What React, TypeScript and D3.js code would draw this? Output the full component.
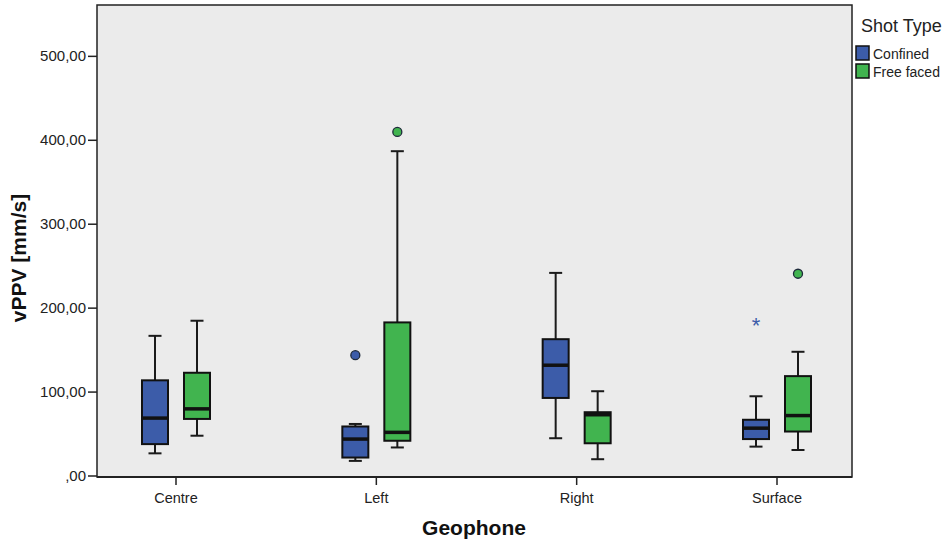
import React from "react";
import * as d3 from "d3";

// Geophone positions along the x axis
const geophones = ["Centre", "Left", "Right", "Surface"];
const shotTypes = ["Confined", "Free faced"];

// Box statistics per geophone: [whiskerLow, q1, median, q3, whiskerHigh]
const confinedStats = [
  [27, 38, 69, 114, 167],
  [18, 22, 44, 59, 62],
  [45, 93, 132, 163, 242],
  [35, 44, 57, 67, 95],
];
const freeFacedStats = [
  [48, 68, 80, 123, 185],
  [34, 42, 52, 183, 387],
  [20, 39, 73, 76, 101],
  [31, 53, 72, 119, 148],
];

// Outliers (circles) and extremes (stars): [geophone, shot type, value]
const outliers: [string, string, number][] = [
  ["Left", "Confined", 144],
  ["Left", "Free faced", 410],
  ["Surface", "Free faced", 241],
];
const extremes: [string, string, number][] = [["Surface", "Confined", 182]];

const yTicks = [0, 100, 200, 300, 400, 500];

const W = 951;
const H = 543;
const plot = { left: 97, right: 852, top: 5, bottom: 477 };
const colors: Record<string, string> = { Confined: "#3c5ca9", "Free faced": "#41b44f" };
const font = "'Liberation Sans', Arial, sans-serif";

export default function App() {
  const x = d3.scalePoint<string>().domain(geophones).range([176, 777]);
  const y = d3.scaleLinear().domain([0, 560]).range([476, 6]);
  const offset = d3.scaleOrdinal<string, number>().domain(shotTypes).range([-21, 21]);
  const boxW = 26;
  const capW = 13;
  const fmt = (v: number) => (v === 0 ? ",00" : d3.format(".2f")(v).replace(".", ","));

  const series = [
    { type: "Confined", stats: confinedStats },
    { type: "Free faced", stats: freeFacedStats },
  ];

  return (
    <svg width={W} height={H} style={{ position: "fixed", left: 0, top: 0, background: "#fff" }} fontFamily={font}>
      <rect x={plot.left} y={plot.top} width={plot.right - plot.left} height={plot.bottom - plot.top} fill="#ebebeb" />

      {series.map((s) =>
        s.stats.map((st, i) => {
          const cx = (x(geophones[i]) as number) + offset(s.type);
          const [lo, q1, med, q3, hi] = st;
          return (
            <g key={s.type + i}>
              <line x1={cx} x2={cx} y1={y(hi)} y2={y(q3)} stroke="#1a1a1a" strokeWidth={2} />
              <line x1={cx} x2={cx} y1={y(q1)} y2={y(lo)} stroke="#1a1a1a" strokeWidth={2} />
              <line x1={cx - capW / 2} x2={cx + capW / 2} y1={y(hi)} y2={y(hi)} stroke="#1a1a1a" strokeWidth={2} />
              <line x1={cx - capW / 2} x2={cx + capW / 2} y1={y(lo)} y2={y(lo)} stroke="#1a1a1a" strokeWidth={2} />
              <rect x={cx - boxW / 2} y={y(q3)} width={boxW} height={y(q1) - y(q3)} fill={colors[s.type]} stroke="#111" strokeWidth={2} />
              <line x1={cx - boxW / 2} x2={cx + boxW / 2} y1={y(med)} y2={y(med)} stroke="#111" strokeWidth={3.5} />
            </g>
          );
        })
      )}

      {outliers.map(([g, t, v], i) => (
        <circle key={"o" + i} cx={(x(g) as number) + offset(t)} cy={y(v)} r={4.5} fill={colors[t]} stroke="#1e2a3a" strokeWidth={1.3} />
      ))}
      {extremes.map(([g, t, v], i) => (
        <text key={"e" + i} x={(x(g) as number) + offset(t)} y={y(v) + 10} textAnchor="middle" fontSize={22} fill={colors[t]}>
          *
        </text>
      ))}

      <rect x={plot.left} y={plot.top} width={plot.right - plot.left} height={plot.bottom - plot.top} fill="none" stroke="#222" strokeWidth={1.5} />
      <line x1={plot.left} x2={plot.right} y1={plot.bottom} y2={plot.bottom} stroke="#222" strokeWidth={2} />

      {yTicks.map((t) => (
        <g key={"y" + t}>
          <line x1={plot.left - 9} x2={plot.left} y1={y(t)} y2={y(t)} stroke="#222" strokeWidth={1.5} />
          <text x={plot.left - 11} y={y(t) + 5} textAnchor="end" fontSize={15} fill="#222">
            {fmt(t)}
          </text>
        </g>
      ))}
      {geophones.map((g) => (
        <g key={"x" + g}>
          <line x1={x(g)} x2={x(g)} y1={plot.bottom} y2={plot.bottom + 8} stroke="#222" strokeWidth={1.5} />
          <text x={x(g)} y={plot.bottom + 26} textAnchor="middle" fontSize={14.5} fill="#222">
            {g}
          </text>
        </g>
      ))}

      <text x={474} y={535} textAnchor="middle" fontSize={21} fontWeight="bold" fill="#111">
        Geophone
      </text>
      <text transform={`translate(26,${258}) rotate(-90)`} textAnchor="middle" fontSize={21} fontWeight="bold" fill="#111">
        vPPV [mm/s]
      </text>

      <text x={861} y={32} fontSize={18} fill="#222">
        Shot Type
      </text>
      {shotTypes.map((t, i) => (
        <g key={"l" + t}>
          <rect x={856} y={46 + i * 18} width={13} height={14} fill={colors[t]} stroke="#111" strokeWidth={1.5} />
          <text x={873} y={59 + i * 18} fontSize={14} fill="#222">
            {t}
          </text>
        </g>
      ))}
    </svg>
  );
}
